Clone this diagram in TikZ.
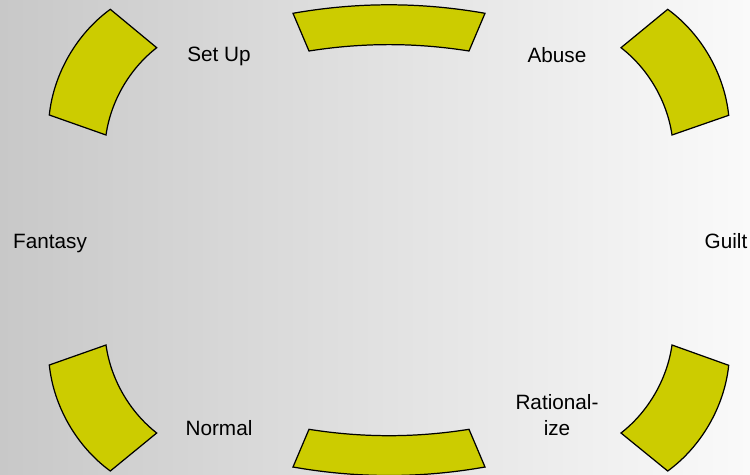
\documentclass[tikz,border=0pt]{standalone}
\usepackage{fontspec}
\setmainfont{Liberation Sans}
\usetikzlibrary{calc}

\definecolor{bgleft}{RGB}{200,200,200}
\definecolor{bgright}{RGB}{250,250,250}
\definecolor{ringfill}{RGB}{204,204,0}

\tikzset{
  ringpart/.style={fill=ringfill, draw=black, line width=0.7pt, line join=miter},
  steplabel/.style={anchor=base, align=center, font=\fontsize{11.8pt}{14.6pt}\selectfont}
}

\begin{document}
\begin{tikzpicture}[x=0.02cm, y=-0.02cm]
    \useasboundingbox (0,0) rectangle (750,474);
    \shade[left color=bgleft, right color=bgright] (0,0) rectangle (750,474);

    % labels of the cycle
    \node[steplabel] (setup) at (219,61.7) {Set Up};
    \node[steplabel] (abuse) at (557,62) {Abuse};
    \node[steplabel] (guilt) at (726,248.5) {Guilt};
    \node[steplabel] (rational) at (557,435) {Rational-\\ize};
    \node[steplabel] (normal) at (219,435) {Normal};
    \node[steplabel] (fantasy) at (50,248.3) {Fantasy};

    % top
    \coordinate (o1) at (485,13.3);
    \coordinate (o2) at (293,13.3);
    \coordinate (i2) at (309,51);
    \coordinate (i1) at (469,51);
    \filldraw[ringpart]
    (o1) .. controls ($(o1)!0.34!-10:(o2)$) and ($(o2)!0.34!10:(o1)$) .. (o2) --
    (i2) .. controls ($(i2)!0.34!9:(i1)$) and ($(i1)!0.34!-9:(i2)$) .. (i1) -- cycle;

    % upper left
    \coordinate (o1) at (110.3,9.3);
    \coordinate (o2) at (49.3,115);
    \coordinate (i2) at (106,135);
    \coordinate (i1) at (156.7,47.7);
    \filldraw[ringpart]
    (o1) .. controls ($(o1)!0.34!-24:(o2)$) and ($(o2)!0.34!24:(o1)$) .. (o2) --
    (i2) .. controls ($(i2)!0.34!22:(i1)$) and ($(i1)!0.34!-22:(i2)$) .. (i1) -- cycle;

    % lower left
    \coordinate (o1) at (49.3,365);
    \coordinate (o2) at (110.3,471);
    \coordinate (i2) at (156.7,433);
    \coordinate (i1) at (106,345);
    \filldraw[ringpart]
    (o1) .. controls ($(o1)!0.34!-24:(o2)$) and ($(o2)!0.34!24:(o1)$) .. (o2) --
    (i2) .. controls ($(i2)!0.34!22:(i1)$) and ($(i1)!0.34!-22:(i2)$) .. (i1) -- cycle;

    % bottom
    \coordinate (o1) at (293,467);
    \coordinate (o2) at (485,467);
    \coordinate (i2) at (469,429.3);
    \coordinate (i1) at (309,429.3);
    \filldraw[ringpart]
    (o1) .. controls ($(o1)!0.34!-10:(o2)$) and ($(o2)!0.34!10:(o1)$) .. (o2) --
    (i2) .. controls ($(i2)!0.34!9:(i1)$) and ($(i1)!0.34!-9:(i2)$) .. (i1) -- cycle;

    % lower right
    \coordinate (o1) at (667.7,471);
    \coordinate (o2) at (728.7,365.3);
    \coordinate (i2) at (672,345);
    \coordinate (i1) at (621,433);
    \filldraw[ringpart]
    (o1) .. controls ($(o1)!0.34!-24:(o2)$) and ($(o2)!0.34!24:(o1)$) .. (o2) --
    (i2) .. controls ($(i2)!0.34!22:(i1)$) and ($(i1)!0.34!-22:(i2)$) .. (i1) -- cycle;

    % upper right
    \coordinate (o1) at (728.7,115.3);
    \coordinate (o2) at (667.7,9.3);
    \coordinate (i2) at (621,47.7);
    \coordinate (i1) at (672,135);
    \filldraw[ringpart]
    (o1) .. controls ($(o1)!0.34!-24:(o2)$) and ($(o2)!0.34!24:(o1)$) .. (o2) --
    (i2) .. controls ($(i2)!0.34!22:(i1)$) and ($(i1)!0.34!-22:(i2)$) .. (i1) -- cycle;
  \end{tikzpicture}
\end{document}
